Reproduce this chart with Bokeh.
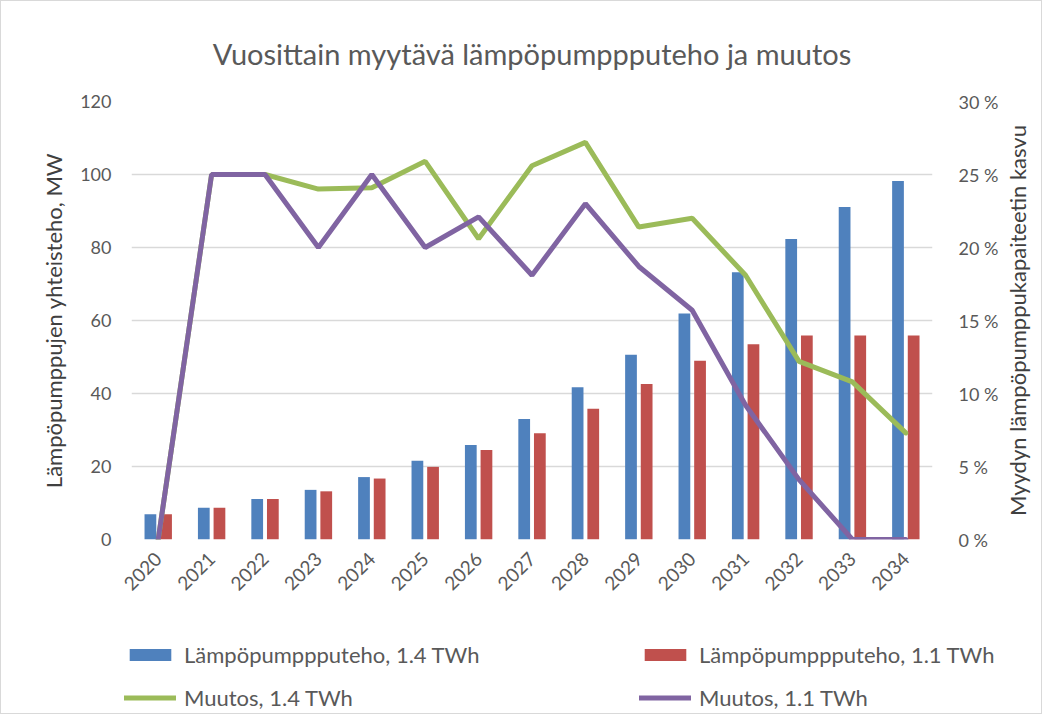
import math
from bokeh.plotting import figure
from bokeh.layouts import column, row
from bokeh.models import (ColumnDataSource, FactorRange, Range1d, LinearAxis, Legend,
                          LegendItem, PrintfTickFormatter, FixedTicker, Title)
from bokeh.transform import dodge
from bokeh.embed import file_html
from bokeh.resources import INLINE

years = [str(y) for y in range(2020, 2035)]
teho_14 = [6.9, 8.7, 11.1, 13.6, 17.1, 21.6, 25.9, 33.0, 41.7, 50.6, 61.9, 73.2, 82.3, 91.1, 98.2]
teho_11 = [6.9, 8.7, 11.1, 13.2, 16.7, 19.9, 24.5, 29.1, 35.8, 42.6, 49.0, 53.5, 55.9, 55.9, 55.9]
muutos_14 = [0.0, 25.0, 25.0, 24.0, 24.1, 25.9, 20.6, 25.6, 27.2, 21.4, 22.0, 18.1, 12.2, 10.8, 7.3]
muutos_11 = [0.0, 25.0, 25.0, 20.0, 25.0, 20.0, 22.1, 18.1, 23.0, 18.7, 15.7, 9.2, 4.1, 0.0, 0.0]
series_labels = ["Lämpöpumppputeho, 1.4 TWh", "Lämpöpumppputeho, 1.1 TWh",
                 "Muutos, 1.4 TWh", "Muutos, 1.1 TWh"]
left_label = "Lämpöpumppujen yhteisteho, MW"
right_label = "Myydyn lämpöpumppukapaiteetin kasvu"
title_text = "Vuosittain myytävä lämpöpumppputeho ja muutos"

left_ticks = [0, 20, 40, 60, 80, 100, 120]
right_ticks = [0, 5, 10, 15, 20, 25, 30]

FONT = "Lato"
GRAY = "#595959"
LABEL_GRAY = "#404040"
BLUE, RED, GREEN, PURPLE = "#4F81BD", "#C0504D", "#9BBB59", "#8064A2"

src = ColumnDataSource(dict(year=years, t14=teho_14, t11=teho_11, m14=muutos_14, m11=muutos_11))

W = 1040
MAIN_W = 1000
MAIN_H = 600

p = figure(width=MAIN_W, height=MAIN_H, x_range=FactorRange(*years), y_range=Range1d(0, 120),
           output_backend="svg", toolbar_location=None,
           min_border_left=130, min_border_right=69, min_border_top=100, min_border_bottom=62)
p.extra_y_ranges = {"pct": Range1d(0, 30)}

p.title.text = title_text
p.title.align = "center"
p.title.text_font = FONT
p.title.text_font_size = "29px"
p.title.text_font_style = "normal"
p.title.text_color = GRAY
p.title.offset = 0
p.title.standoff = 62

p.outline_line_color = None
p.xgrid.grid_line_color = None
p.ygrid.grid_line_color = "#D9D9D9"
p.ygrid.grid_line_width = 1.3
p.yaxis.ticker = FixedTicker(ticks=left_ticks)


def add_series(fig, y_pct_range, flat=False):
    b14 = "t14" if flat else 0
    b11 = "t11" if flat else 0
    r1 = fig.vbar(x=dodge("year", -0.146, range=fig.x_range), top="t14", bottom=b14, width=0.22,
                  source=src, fill_color=BLUE, line_color=None)
    r2 = fig.vbar(x=dodge("year", 0.147, range=fig.x_range), top="t11", bottom=b11, width=0.22,
                  source=src, fill_color=RED, line_color=None)
    r3 = fig.line(x="year", y="m14", source=src, y_range_name=y_pct_range, line_color=GREEN,
                  line_width=5, line_cap="round")
    r4 = fig.line(x="year", y="m11", source=src, y_range_name=y_pct_range, line_color=PURPLE,
                  line_width=5, line_cap="round")
    return r1, r2, r3, r4


add_series(p, "pct")

raxis = LinearAxis(y_range_name="pct", ticker=FixedTicker(ticks=right_ticks),
                   formatter=PrintfTickFormatter(format="%d %%"))
p.add_layout(raxis, "right")

p.yaxis[0].axis_label = left_label

for ax in [p.xaxis[0], p.yaxis[0], raxis]:
    ax.axis_line_color = None
    ax.major_tick_line_color = None
    ax.minor_tick_line_color = None
    ax.major_label_text_font = FONT
    ax.major_label_text_font_size = "18px"
    ax.major_label_text_color = GRAY
    ax.axis_label_text_font = FONT
    ax.axis_label_text_font_size = "22px"
    ax.axis_label_text_font_style = "normal"
    ax.axis_label_text_color = LABEL_GRAY

p.xaxis[0].major_label_text_font_size = "19px"
p.yaxis[0].major_label_standoff = 14
p.yaxis[0].axis_label_standoff = 10
raxis.major_label_standoff = 20
p.xaxis[0].major_label_orientation = math.pi / 4
p.xaxis[0].major_label_standoff = 10

# right-hand axis title (reads bottom to top)
rf = figure(width=W - MAIN_W, height=MAIN_H, x_range=Range1d(0, 1), y_range=Range1d(0, 1),
            x_axis_type=None, y_axis_type=None, output_backend="svg", toolbar_location=None,
            min_border_left=0, min_border_right=0, min_border_top=100, min_border_bottom=62)
rf.outline_line_color = None
rf.add_layout(Title(text=right_label, align="center", text_font=FONT, text_font_size="22px",
                    text_font_style="normal", text_color=LABEL_GRAY, standoff=0, offset=0),
              "left")

# legend panel below the chart: its series copies sit just below its visible range,
# so they only supply the legend glyphs
lf = figure(width=W, height=112, x_range=FactorRange(*years), y_range=Range1d(500, 1500),
            output_backend="svg", toolbar_location=None,
            min_border_left=0, min_border_right=0, min_border_top=0, min_border_bottom=0)
if "frame_align" in lf.properties():
    lf.frame_align = False
lf.extra_y_ranges = {"pct": Range1d(500, 1500)}
lf.axis.visible = False
lf.grid.visible = False
lf.outline_line_color = None
g1, g2, g3, g4 = add_series(lf, "pct", flat=True)

legend = Legend(items=[LegendItem(label=series_labels[0], renderers=[g1]),
                       LegendItem(label=series_labels[2], renderers=[g3]),
                       LegendItem(label=series_labels[1], renderers=[g2]),
                       LegendItem(label=series_labels[3], renderers=[g4])],
                ncols=2, location=(123, 2))
legend.glyph_width = 52
legend.glyph_height = 15
legend.label_standoff = 8
legend.label_width = 439
legend.label_height = 20
legend.spacing = 16
legend.label_text_font = FONT
legend.label_text_font_size = "22px"
legend.label_text_color = GRAY
legend.border_line_color = None
legend.background_fill_alpha = 0
legend.margin = 0
legend.padding = 0
lf.add_layout(legend, "center")

layout = column(row(p, rf, spacing=0), lf, spacing=0)
layout.styles = {"border": "1px solid #D9D9D9"}

open("out.html", "w").write(file_html(layout, INLINE))
